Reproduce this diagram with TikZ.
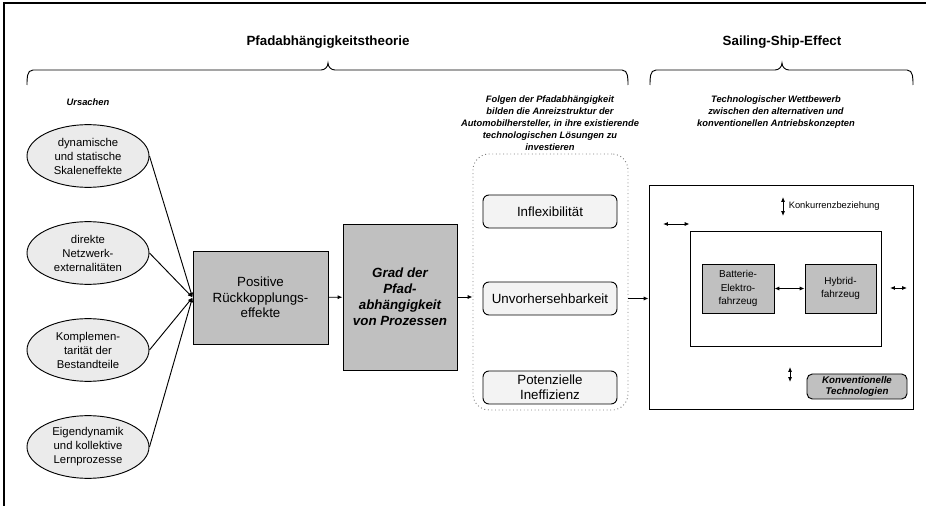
\documentclass[tikz,border=0pt]{standalone}
\usepackage{fontspec}
\setmainfont{Liberation Sans}
\usetikzlibrary{arrows.meta}
\usetikzlibrary{shapes.geometric}
\usetikzlibrary{positioning}
\definecolor{boxgray}{HTML}{C0C0C0}
\definecolor{lightfill}{HTML}{EBEBEB}
\definecolor{palefill}{HTML}{F3F3F3}
\tikzset{>={Latex[length=3.6pt, width=3pt]}}
\tikzset{cause/.style = {ellipse, draw, fill = lightfill, inner sep = 0,
                         minimum width = 91.5pt, minimum height = 47pt, align = center,
                         font = \fontsize{8.5}{10.5}\selectfont}}
\tikzset{grau/.style = {draw, fill = boxgray, inner sep = 0, align = center}}
\tikzset{folge/.style = {draw, fill = palefill, rounded corners = 4.5pt, inner sep = 0,
                         minimum width = 100.5pt, minimum height = 24.75pt, align = center,
                         font = \fontsize{10}{11.5}\selectfont}}
\tikzset{titel/.style = {font = \fontsize{10}{12}\selectfont\bfseries}}
\tikzset{kopf/.style = {align = center, font = \fontsize{7}{9}\selectfont\bfseries\itshape}}
\tikzset{klein/.style = {inner sep = 0, font = \fontsize{7}{8.5}\selectfont}}

\begin{document}
\begin{tikzpicture}[x = 0.75pt, y = -0.75pt, line width = 0.7pt]
      \useasboundingbox (0, 0) rectangle (926, 506);
      \draw [line width = 1.6pt] (4, 506) -- (4, 3) -- (926, 3);
      % titles and braces
      \node [titel] (pfad) at (328, 42) {Pfadabhängigkeitstheorie};
      \node [titel] (ship) at (782, 42) {Sailing-Ship-Effect};
      \draw (27, 85) to [out = 90, in = 180] (33, 70) -- (321, 70)
            to [out = 0, in = -90] (328, 63) to [out = -90, in = 180] (335, 70)
            -- (622, 70) to [out = 0, in = 90] (628, 85);
      \draw (650, 85) to [out = 90, in = 180] (656, 70) -- (775, 70)
            to [out = 0, in = -90] (782, 63) to [out = -90, in = 180] (789, 70)
            -- (907, 70) to [out = 0, in = 90] (913, 85);
      \node [kopf] (urs) at (88, 102) {Ursachen};
      \node [kopf] (folgkopf) at (550, 123) {Folgen der Pfadabhängigkeit\\
            bilden die Anreizstruktur der\\Automobilhersteller, in ihre existierende\\
            technologischen Lösungen zu\\investieren};
      \node [kopf] (wettkopf) at (776, 112) {Technologischer Wettbewerb\\
            zwischen den alternativen und\\konventionellen Antriebskonzepten};
      % causes
      \node [cause] (skal) at (88, 156) {dynamische\\und statische\\Skaleneffekte};
      \node [cause] (netz) at (88, 253) {direkte\\Netzwerk-\\externalitäten};
      \node [cause] (komp) at (88, 350) {Komplemen-\\tarität der\\Bestandteile};
      \node [cause] (eigen) at (88, 447) {Eigendynamik\\und kollektive\\Lernprozesse};
      \node [grau, minimum width = 101.25pt, minimum height = 69.75pt,
             font = \fontsize{10}{11.6}\selectfont] (rueck) at (260.5, 297.5)
            {Positive\\Rückkopplungs-\\effekte};
      \node [grau, minimum width = 85.5pt, minimum height = 109.5pt,
             font = \fontsize{10}{12}\selectfont\bfseries\itshape] (grad) at (400, 297)
            {Grad der\\Pfad-\\abhängigkeit\\von Prozessen};
      \foreach \c in {skal, netz, komp, eigen}
        \draw [->] (\c.east) -- (rueck.west);
      \draw [->] (rueck) -- (grad);
      % consequences
      \node [draw = gray, dotted, rounded corners = 12pt, minimum width = 116.25pt,
             minimum height = 192pt] (folgen) at (550.5, 282) {};
      \node [folge] (infl) at (550, 211.5) {Inflexibilität};
      \node [folge] (unvor) at (550, 298.5) {Unvorhersehbarkeit};
      \node [folge] (ineff) at (550, 387.5) {Potenzielle\\Ineffizienz};
      \draw [->] (grad.east) -- (grad.east -| folgen.west);
      % competition
      \node [draw, minimum width = 198pt, minimum height = 168pt] (markt) at (781, 297) {};
      \node [draw, minimum width = 143.25pt, minimum height = 86.25pt] (neu) at (785.5, 288.5) {};
      \draw [->] (unvor -| folgen.east) -- (unvor -| markt.west);
      \node [grau, minimum width = 54pt, minimum height = 36.75pt,
             font = \fontsize{7.5}{10}\selectfont] (bev) at (738, 288.5) {Batterie-\\Elektro-\\fahrzeug};
      \node [grau, minimum width = 53.25pt, minimum height = 36.75pt,
             font = \fontsize{7.5}{10}\selectfont] (hyb) at (840.5, 288.5) {Hybrid-\\fahrzeug};
      \draw [<->] (bev) -- (hyb);
      \node [grau, rounded corners = 4pt, minimum width = 75pt, minimum height = 18.75pt,
             font = \fontsize{7.3}{8.8}\selectfont\bfseries\itshape] (konv) at (857, 386.5)
            {Konventionelle\\Technologien};
      \coordinate (k1) at (783, 197); \coordinate (k2) at (783, 216);
      \coordinate (l1) at (663, 224); \coordinate (l2) at (neu.west |- l1);
      \coordinate (r1) at (890, 288); \coordinate (r2) at (907, 288);
      \coordinate (u1) at (790, 367); \coordinate (u2) at (790, 382);
      \draw [<->] (k1) -- (k2);
      \node [klein, right = 4pt of k1, yshift = -7pt] (konk) {Konkurrenzbeziehung};
      \draw [<->] (l1) -- (l2);
      \draw [<->] (r1) -- (r2);
      \draw [<->] (u1) -- (u2);
\end{tikzpicture}
\end{document}
